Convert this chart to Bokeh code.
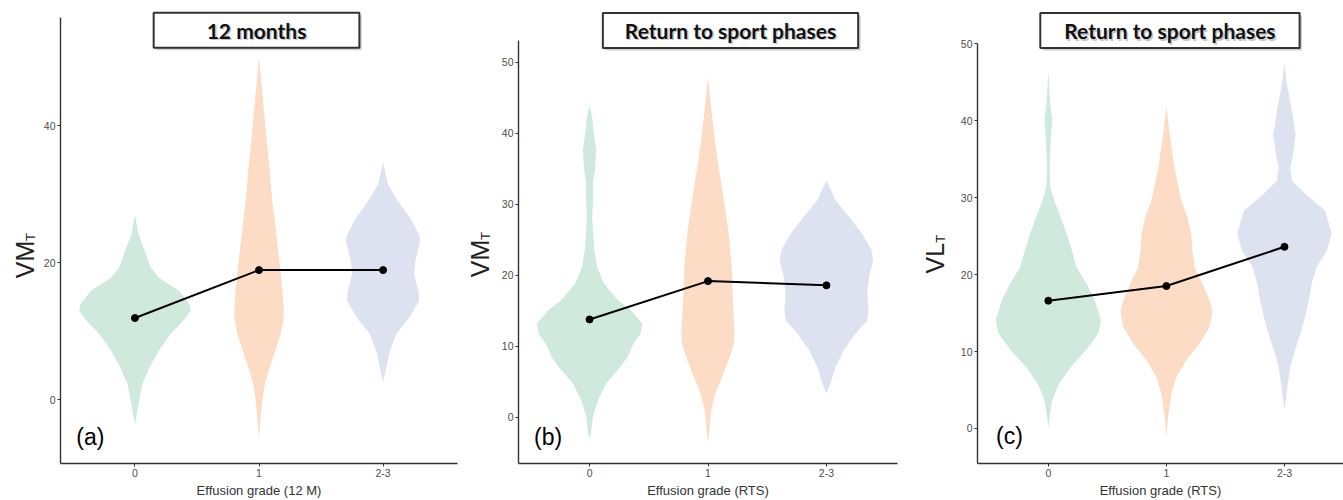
import numpy as np
from bokeh.plotting import figure
from bokeh.layouts import row
from bokeh.models import Range1d, FixedTicker, Label
from bokeh.embed import file_html
from bokeh.resources import INLINE

# ---------------- data ----------------
CATS = ["0", "1", "2-3"]
FILLS = ["#cfeadc", "#fddcc6", "#dde2f0"]

# Panel (a): 12 months, VM_T
A0_Y = [-3.8, -1.6, -0.1, 2.3, 4.7, 7.1, 9.6, 11.5, 13.0, 13.9, 15.9, 17.8, 19.3, 21.7, 24.2, 27.0]
A0_W = [0, 0.02, 0.035, 0.06, 0.12, 0.19, 0.29, 0.39, 0.45, 0.44, 0.355, 0.19, 0.127, 0.08, 0.027, 0]
A1_Y = [-5.7, -2.6, -0.1, 2.3, 4.7, 7.1, 9.6, 12.0, 14.4, 19.3, 24.1, 29.0, 33.8, 38.7, 43.5, 50.1]
A1_W = [0, 0.013, 0.027, 0.047, 0.087, 0.13, 0.175, 0.2, 0.196, 0.17, 0.14, 0.107, 0.085, 0.057, 0.033, 0]
A2_Y = [2.5, 4.7, 7.1, 9.6, 12.0, 14.4, 15.9, 18.3, 20.2, 23.2, 24.1, 26.6, 29.0, 31.4, 34.6]
A2_W = [0, 0.027, 0.054, 0.107, 0.215, 0.29, 0.285, 0.25, 0.26, 0.3, 0.29, 0.215, 0.12, 0.04, 0]
A_MEANS = [11.9, 18.9, 18.9]

# Panel (b): return to sport, VM_T
B0_Y = [-3.0, -2.3, 0.1, 2.4, 4.8, 7.1, 8.5, 10.4, 11.8, 13.2, 15.1, 16.5, 18.9, 21.2, 23.6, 25.9, 28.3, 30.6, 33.0, 35.3, 37.7, 40.0, 42.3, 44.0]
B0_W = [0, 0.011, 0.028, 0.07, 0.14, 0.26, 0.32, 0.37, 0.43, 0.445, 0.35, 0.24, 0.12, 0.063, 0.04, 0.03, 0.022, 0.03, 0.03, 0.048, 0.056, 0.036, 0.022, 0]
B1_Y = [-3.7, -1.3, 1.0, 3.4, 5.7, 8.1, 10.4, 11.8, 16.5, 21.2, 25.9, 30.6, 35.3, 40.0, 44.7, 48.0]
B1_W = [0, 0.014, 0.028, 0.063, 0.12, 0.175, 0.22, 0.225, 0.21, 0.2, 0.175, 0.135, 0.09, 0.05, 0.02, 0]
B2_Y = [3.4, 4.8, 7.1, 9.5, 11.8, 13.7, 15.1, 17.5, 19.8, 22.2, 23.6, 25.9, 28.3, 30.6, 33.4]
B2_W = [0, 0.034, 0.077, 0.147, 0.245, 0.345, 0.355, 0.345, 0.36, 0.395, 0.38, 0.3, 0.19, 0.077, 0]
B_MEANS = [13.8, 19.2, 18.6]

# Panel (c): return to sport, VL_T
C0_Y = [0, 1.5, 3.7, 5.8, 8.0, 10.2, 12.3, 14.0, 16.6, 18.8, 20.9, 23.1, 25.3, 27.4, 29.6, 31.3, 33.9, 37.4, 40.0, 42.5, 46.4]
C0_W = [0, 0.011, 0.033, 0.09, 0.19, 0.32, 0.42, 0.447, 0.395, 0.325, 0.24, 0.2, 0.155, 0.105, 0.05, 0.017, 0.011, 0.02, 0.033, 0.014, 0]
C1_Y = [-1.1, 1.5, 4.5, 6.7, 8.9, 11.0, 13.2, 15.3, 16.6, 18.8, 20.9, 23.1, 25.3, 27.4, 29.6, 33.9, 38.2, 41.9]
C1_W = [0, 0.014, 0.042, 0.085, 0.17, 0.28, 0.367, 0.39, 0.367, 0.305, 0.24, 0.22, 0.21, 0.18, 0.127, 0.068, 0.028, 0]
C2_Y = [2.4, 5.8, 8.0, 10.2, 12.3, 14.5, 16.6, 18.8, 20.9, 23.1, 25.3, 28.3, 30.5, 32.2, 33.9, 36.1, 38.2, 41.3, 44.7, 47.5]
C2_W = [0, 0.028, 0.05, 0.09, 0.135, 0.175, 0.205, 0.23, 0.27, 0.36, 0.4, 0.345, 0.175, 0.063, 0.05, 0.078, 0.095, 0.063, 0.022, 0]
C_MEANS = [16.6, 18.5, 23.6]

TITLES = ["12 months", "Return to sport phases", "Return to sport phases"]
XTITLES = ["Effusion grade (12 M)", "Effusion grade (RTS)", "Effusion grade (RTS)"]
YMAIN = ["VM", "VM", "VL"]
YSUB = ["T", "T", "T"]
LETTERS = ["(a)", "(b)", "(c)"]
A_YTICKS = [0, 20, 40]
BC_YTICKS = [0, 10, 20, 30, 40, 50]

H = 500
AX = "#333333"
TICKLAB = "#4d4d4d"
SANS = "Liberation Sans"
TFONT = "Lato"


def ylabel_fig(width, main, sub, main_xy, sub_xy):
    """Narrow strip holding the rotated y-axis title with its subscript."""
    f = figure(width=width, height=H, output_backend="svg", toolbar_location=None,
               x_range=Range1d(0, 1), y_range=Range1d(0, 1),
               x_axis_location=None, y_axis_location=None,
               min_border=0, min_border_left=0, min_border_right=0,
               min_border_top=10, min_border_bottom=37)
    f.outline_line_color = None
    f.xgrid.visible = False
    f.ygrid.visible = False
    f.add_layout(Label(x=main_xy[0], y=main_xy[1], x_units="screen", y_units="screen",
                       text=main, angle=np.pi / 2, text_font=SANS,
                       text_font_size="25px", text_color="#222222",
                       text_align="center", text_baseline="middle"))
    f.add_layout(Label(x=sub_xy[0], y=sub_xy[1], x_units="screen", y_units="screen",
                       text=sub, angle=np.pi / 2, text_font=SANS,
                       text_font_size="13px", text_color="#222222",
                       text_align="center", text_baseline="middle"))
    return f


def panel(width, bl, br, xend, yr, yticks, ybounds, violins, means, title,
          title_xy, title_pad, xtitle, letter_xy, letter):
    p = figure(width=width, height=H, output_backend="svg", toolbar_location=None,
               x_range=Range1d(-0.6, xend), y_range=Range1d(*yr),
               min_border_left=bl, min_border_right=br, min_border_top=10,
               min_border_bottom=37)
    p.outline_line_color = None
    p.xgrid.visible = False
    p.ygrid.visible = False
    p.background_fill_color = "white"
    p.border_fill_color = "white"

    for i, (ys, ws) in enumerate(violins):
        ys = np.asarray(ys, float)
        ws = np.asarray(ws, float)
        xs = np.concatenate([i - ws, (i + ws)[::-1]])
        yy = np.concatenate([ys, ys[::-1]])
        p.patch(xs, yy, fill_color=FILLS[i], line_color=None)

    idx = list(range(len(CATS)))
    p.line(idx, means, line_color="black", line_width=2)
    p.scatter(idx, means, size=7, color="black")

    # axes
    p.xaxis.ticker = FixedTicker(ticks=idx)
    p.xaxis.major_label_overrides = {i: c for i, c in enumerate(CATS)}
    p.xaxis.bounds = (-0.6, 2.6)
    p.yaxis.ticker = FixedTicker(ticks=yticks)
    p.yaxis.bounds = ybounds
    for ax in (p.xaxis, p.yaxis):
        ax.axis_line_color = AX
        ax.axis_line_width = 1.4
        ax.major_tick_line_color = AX
        ax.major_tick_in = 0
        ax.major_tick_out = 3
        ax.minor_tick_line_color = None
        ax.major_label_text_color = TICKLAB
        ax.major_label_text_font = SANS
        ax.major_label_text_font_size = "10.5px"
        ax.major_label_standoff = 2
    p.xaxis.axis_label = xtitle
    p.xaxis.axis_label_text_font = SANS
    p.xaxis.axis_label_text_font_style = "normal"
    p.xaxis.axis_label_text_font_size = "13px"
    p.xaxis.axis_label_text_color = AX
    p.xaxis.axis_label_standoff = 3

    # panel letter
    p.add_layout(Label(x=letter_xy[0], y=letter_xy[1], text=letter,
                       text_font=SANS, text_font_size="23px", text_color="black",
                       text_align="center", text_baseline="middle"))

    # title box with shadow
    tx, ty = title_xy
    common = dict(x=tx, y=ty, text=title, text_font=TFONT, text_font_size="21px",
                  text_font_style="bold", text_align="center",
                  text_baseline="middle", padding=title_pad)
    p.add_layout(Label(**common, x_offset=2.5, y_offset=-2.5, text_color="#d2d2d2",
                       background_fill_color="#d2d2d2"))
    p.add_layout(Label(**common, text_color="white", background_fill_color="white",
                       border_line_color=AX, border_line_width=2))
    p.add_layout(Label(x=tx, y=ty, text=title, text_font=TFONT, text_font_size="21px",
                       text_font_style="bold", text_align="center",
                       text_baseline="middle", x_offset=1.5, y_offset=-1.5,
                       text_color="#a0a0a0", text_alpha=0.6))
    p.add_layout(Label(x=tx, y=ty, text=title, text_font=TFONT, text_font_size="21px",
                       text_font_style="bold", text_align="center",
                       text_baseline="middle", text_color="#111111"))
    return p


la = ylabel_fig(40, YMAIN[0], YSUB[0], (24, 204), (30.3, 226.5))
pa = panel(422, 19, 5, 2.6, (-9.34, 56.8), A_YTICKS, (-9.34, 55.8),
           [(A0_Y, A0_W), (A1_Y, A1_W), (A2_Y, A2_W)], A_MEANS, TITLES[0],
           (0.98, 53.9), dict(left=53, right=53, top=5, bottom=5), XTITLES[0],
           (-0.36, -5.5), LETTERS[0])
lb = ylabel_fig(31, YMAIN[1], YSUB[1], (17, 205), (23.3, 227.5))
pb = panel(412, 25, 8, 2.6, (-6.48, 57.3), BC_YTICKS, (-6.48, 53.1),
           [(B0_Y, B0_W), (B1_Y, B1_W), (B2_Y, B2_W)], B_MEANS, TITLES[1],
           (1.19, 54.5), dict(left=22, right=22, top=5, bottom=5), XTITLES[1],
           (-0.35, -2.8), LETTERS[1])
lc = ylabel_fig(43, YMAIN[2], YSUB[2], (29, 205.3), (35.3, 224.6))
pc = panel(395, 29, 0, 2.50, (-4.55, 54.3), BC_YTICKS, (-4.55, 50.0),
           [(C0_Y, C0_W), (C1_Y, C1_W), (C2_Y, C2_W)], C_MEANS, TITLES[2],
           (1.03, 51.7), dict(left=24, right=24, top=5, bottom=5), XTITLES[2],
           (-0.33, -1.0), LETTERS[2])

layout = row(la, pa, lb, pb, lc, pc, spacing=0)
open("out.html", "w").write(file_html(layout, INLINE))
